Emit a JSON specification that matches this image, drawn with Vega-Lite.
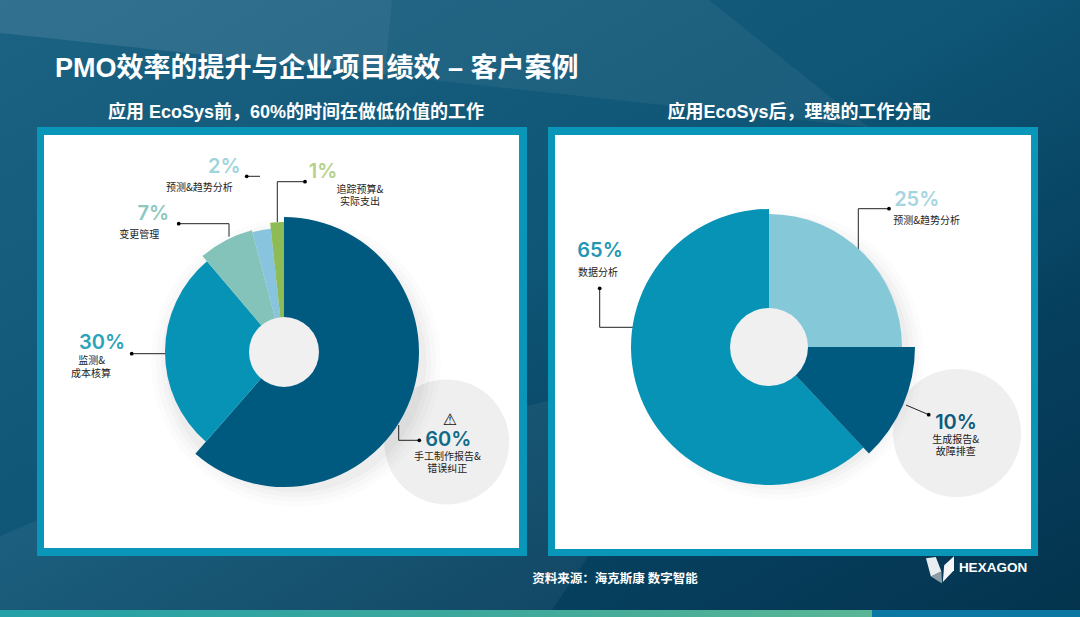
{
"$schema":"https://vega.github.io/schema/vega-lite/v6.json",
"autosize":{"type":"fit","contains":"padding"},"width":1080,"height":617,"padding":0,
"background":"#0a4563",
"view":{"stroke":null},
"config":{"font":"Liberation Sans, Noto Sans CJK SC"},
"datasets":{
"frame":[{"x":0,"x2":1080,"y":0,"y2":617}],
"shards":[
{"s":"a","x":0,"y":0,"y2":33},{"s":"a","x":709,"y":0,"y2":110},{"s":"a","x":868,"y":127,"y2":127},
{"s":"b","x":0,"y":0,"y2":33},{"s":"b","x":385,"y":0,"y2":74},{"s":"b","x":392,"y":0,"y2":0},
{"s":"c","x":0,"y":536,"y2":610},{"s":"c","x":40,"y":519,"y2":610},{"s":"c","x":552,"y":400,"y2":610},{"s":"c","x":589,"y":555,"y2":555}
],
"stripA":[{"x":0,"x2":872,"y":610,"y2":617}],
"stripB":[{"x":872,"x2":1080,"y":610,"y2":617}],
"panelOuter":[{"x":37,"x2":527,"y":127,"y2":556},{"x":548,"x2":1038,"y":127,"y2":556}],
"panelInner":[{"x":44,"x2":519,"y":135,"y2":548},{"x":555,"x2":1031,"y":135,"y2":549}],
"discs":[{"d":"左底","x":446.7,"y":442},{"d":"右底","x":957,"y":433}],
"holes":[{"d":"左孔","x":284,"y":352},{"d":"右孔","x":769,"y":347}],
"shadow":[{"x":296,"y":362},{"x":779,"y":355}],
"slices":[
{"slice":"手工制作报告&错误纠正(前)","x":284,"y":352,"from":0,"to":61.4},
{"slice":"监测&成本核算(前)","x":284,"y":352,"from":61.4,"to":88.8},
{"slice":"变更管理(前)","x":284,"y":352,"from":88.8,"to":95.9},
{"slice":"预测&趋势分析(前)","x":284,"y":352,"from":95.9,"to":98.3},
{"slice":"追踪预算&实际支出(前)","x":284,"y":352,"from":98.3,"to":100},
{"slice":"预测&趋势分析(后)","x":769,"y":347,"from":0,"to":25},
{"slice":"生成报告&故障排查(后)","x":769,"y":347,"from":25,"to":38},
{"slice":"数据分析(后)","x":769,"y":347,"from":38,"to":100}
],
"leaders":[
{"id":"2","n":0,"x":246.7,"y":176.3},{"id":"2","n":1,"x":260,"y":176.3},
{"id":"1","n":0,"x":305,"y":181.7},{"id":"1","n":1,"x":277.3,"y":181.7},{"id":"1","n":2,"x":277.3,"y":222},
{"id":"7","n":0,"x":178.7,"y":223.7},{"id":"7","n":1,"x":229,"y":223.7},{"id":"7","n":2,"x":229,"y":236.7},
{"id":"30","n":0,"x":131.7,"y":353.7},{"id":"30","n":1,"x":166,"y":353.7},
{"id":"60","n":0,"x":419.3,"y":440.3},{"id":"60","n":1,"x":398.7,"y":440.3},{"id":"60","n":2,"x":398.7,"y":425},
{"id":"25","n":0,"x":889,"y":208.7},{"id":"25","n":1,"x":858.3,"y":208.7},{"id":"25","n":2,"x":858.3,"y":250},
{"id":"65","n":0,"x":599.7,"y":288.3},{"id":"65","n":1,"x":599.7,"y":327.3},{"id":"65","n":2,"x":634,"y":327.3},
{"id":"10","n":0,"x":928.7,"y":414.7},{"id":"10","n":1,"x":906,"y":405}
],
"percents":[
{"t":"2%","x":224.3,"y":166.7},{"t":"1%","x":323,"y":171.7},{"t":"7%","x":153.3,"y":214.3},
{"t":"30%","x":102,"y":343.3},{"t":"60%","x":448.3,"y":440},
{"t":"25%","x":916.7,"y":200},{"t":"65%","x":600,"y":250.7},{"t":"10%","x":956,"y":422.7}
],
"captions":[
{"t":"预测&趋势分析","x":199.3,"y":188},{"t":"追踪预算&","x":360,"y":189.5},{"t":"实际支出","x":360,"y":202},
{"t":"变更管理","x":139.3,"y":235.3},{"t":"监测&","x":91.7,"y":361},{"t":"成本核算","x":91,"y":373.7},
{"t":"手工制作报告&","x":447.3,"y":456.5},{"t":"错误纠正","x":447.3,"y":469},
{"t":"预测&趋势分析","x":926.7,"y":221.3},{"t":"数据分析","x":598,"y":272.7},
{"t":"生成报告&","x":955.7,"y":440},{"t":"故障排查","x":955.7,"y":452}
],
"logo":[{"x":940,"y":569.5}]
},
"encoding":{
"x":{"field":"x","type":"quantitative","scale":{"domain":[0,1080],"nice":false,"zero":false},"axis":null},
"y":{"field":"y","type":"quantitative","scale":{"domain":[0,617],"reverse":true,"nice":false,"zero":false},"axis":null}
},
"layer":[
{"data":{"name":"frame"},"mark":{"type":"rect","color":{"gradient":"linear","x1":0,"y1":0,"x2":1,"y2":1,"stops":[{"offset":0,"color":"#1c6283"},{"offset":0.45,"color":"#0f5676"},{"offset":0.75,"color":"#063f5e"},{"offset":1,"color":"#04344e"}]}},"encoding":{"x2":{"field":"x2"},"y2":{"field":"y2"}}},
{"data":{"name":"shards"},"mark":{"type":"area","color":"#ffffff","opacity":0.05},"encoding":{"y2":{"field":"y2"},"detail":{"field":"s"}}},
{"data":{"name":"stripA"},"mark":{"type":"rect","color":{"gradient":"linear","x1":0,"y1":0,"x2":1,"y2":0,"stops":[{"offset":0,"color":"#23a0a8"},{"offset":0.6,"color":"#3fa99b"},{"offset":1,"color":"#58b695"}]}},"encoding":{"x2":{"field":"x2"},"y2":{"field":"y2"}}},
{"data":{"name":"stripB"},"mark":{"type":"rect","color":"#0b77a3"},"encoding":{"x2":{"field":"x2"},"y2":{"field":"y2"}}},
{"data":{"name":"panelOuter"},"mark":{"type":"rect","color":"#0a96b9"},"encoding":{"x2":{"field":"x2"},"y2":{"field":"y2"}}},
{"data":{"name":"panelInner"},"mark":{"type":"rect","color":"#ffffff"},"encoding":{"x2":{"field":"x2"},"y2":{"field":"y2"}}},
{"data":{"name":"discs"},"mark":{"type":"point","filled":true,"opacity":1,"color":"#efefef"},"encoding":{"size":{"field":"d","type":"nominal","legend":null,"scale":{"domain":["左底","右底"],"range":[15625,16384]}}}},
{"data":{"name":"shadow"},"mark":{"type":"point","filled":true,"color":"#000000","opacity":0.012,"size":84100}},
{"data":{"name":"shadow"},"mark":{"type":"point","filled":true,"color":"#000000","opacity":0.015,"size":78400}},
{"data":{"name":"shadow"},"mark":{"type":"point","filled":true,"color":"#000000","opacity":0.018,"size":73000}},
{"data":{"name":"shadow"},"mark":{"type":"point","filled":true,"color":"#000000","opacity":0.025,"size":68000}},
{"data":{"name":"leaders"},"mark":{"type":"line","color":"#222222","strokeWidth":1},"encoding":{"detail":{"field":"id"},"order":{"field":"n"}}},
{"data":{"name":"leaders"},"transform":[{"filter":"datum.n===0"}],"mark":{"type":"point","filled":true,"color":"#000000","size":14,"opacity":1}},
{"data":{"name":"slices"},"encoding":{"theta":{"field":"from","type":"quantitative","scale":{"domain":[0,100]}},"theta2":{"field":"to"}},"layer":[
{"transform":[{"filter":{"field":"slice","equal":"手工制作报告&错误纠正(前)"}}],"mark":{"type":"arc","outerRadius":135,"color":"#005a80"}},
{"transform":[{"filter":{"field":"slice","equal":"监测&成本核算(前)"}}],"mark":{"type":"arc","outerRadius":119,"color":"#0793b6"}},
{"transform":[{"filter":{"field":"slice","equal":"变更管理(前)"}}],"mark":{"type":"arc","outerRadius":126,"color":"#84c3ba"}},
{"transform":[{"filter":{"field":"slice","equal":"预测&趋势分析(前)"}}],"mark":{"type":"arc","outerRadius":124,"color":"#88c4dd"}},
{"transform":[{"filter":{"field":"slice","equal":"追踪预算&实际支出(前)"}}],"mark":{"type":"arc","outerRadius":130,"color":"#8dbb55"}},
{"transform":[{"filter":{"field":"slice","equal":"预测&趋势分析(后)"}}],"mark":{"type":"arc","outerRadius":133,"color":"#85c9d9"}},
{"transform":[{"filter":{"field":"slice","equal":"数据分析(后)"}}],"mark":{"type":"arc","outerRadius":138,"color":"#0793b6"}},
{"transform":[{"filter":{"field":"slice","equal":"生成报告&故障排查(后)"}}],"mark":{"type":"arc","outerRadius":146,"color":"#005a80"}}
]},
{"data":{"name":"holes"},"mark":{"type":"point","filled":true,"opacity":1,"color":"#f0f0f0"},"encoding":{"size":{"field":"d","type":"nominal","legend":null,"scale":{"domain":["左孔","右孔"],"range":[4900,6084]}}}},
{"data":{"name":"percents"},"mark":{"type":"text","fontSize":20,"fontWeight":600,"font":"Inter"},"encoding":{"text":{"field":"t"},"color":{"field":"t","type":"nominal","legend":null,"scale":{"domain":["2%","1%","7%","30%","60%","25%","65%","10%"],"range":["#9fd4dc","#b4d28a","#8cc8bf","#2ba3b8","#0f6a8a","#a5d5e0","#2496b4","#0d5a7c"]}}}},
{"data":{"name":"captions"},"mark":{"type":"text","fontSize":10,"color":"#222222","font":"Noto Sans CJK SC"},"encoding":{"text":{"field":"t"}}},
{"data":{"values":[{"t":"⚠","x":450,"y":420}]},"mark":{"type":"text","fontSize":16,"color":"#111111","font":"DejaVu Sans"},"encoding":{"text":{"field":"t"}}},
{"data":{"values":[{"t":"PMO效率的提升与企业项目绩效 – 客户案例","x":55,"y":69}]},"mark":{"type":"text","align":"left","fontSize":27,"fontWeight":"bold","color":"#ffffff","font":"Liberation Sans, Noto Sans CJK SC"},"encoding":{"text":{"field":"t"}}},
{"data":{"values":[{"t":"应用 EcoSys前，60%的时间在做低价值的工作","x":296,"y":113},{"t":"应用EcoSys后，理想的工作分配","x":799,"y":113}]},"mark":{"type":"text","fontSize":18,"fontWeight":"bold","color":"#ffffff","font":"Liberation Sans, Noto Sans CJK SC"},"encoding":{"text":{"field":"t"}}},
{"data":{"values":[{"t":"资料来源：海克斯康 数字智能","x":615,"y":579}]},"mark":{"type":"text","fontSize":12.5,"fontWeight":"bold","color":"#ffffff","font":"Noto Sans CJK SC"},"encoding":{"text":{"field":"t"}}},
{"data":{"values":[{"t":"HEXAGON","x":993,"y":568}]},"mark":{"type":"text","fontSize":13.5,"fontWeight":"bold","color":"#ffffff","font":"Liberation Sans"},"encoding":{"text":{"field":"t"}}},
{"data":{"name":"logo"},"mark":{"type":"point","filled":true,"opacity":1,"size":784,"color":"#e8edf0","shape":"M-1,-0.8 L-0.3,-0.9 L0.1,0.15 L-0.65,0.5 Z"}},
{"data":{"name":"logo"},"mark":{"type":"point","filled":true,"opacity":1,"size":784,"color":"#8d9ea8","shape":"M-0.65,0.5 L0.1,0.15 L0.15,1 Z"}},
{"data":{"name":"logo"},"mark":{"type":"point","filled":true,"opacity":1,"size":784,"color":"#f4f6f7","shape":"M0.2,0.9 L0.3,-0.3 L1,-0.95 L1,0.05 Z"}}
],
"resolve":{"scale":{"color":"independent","size":"independent"}}
}
